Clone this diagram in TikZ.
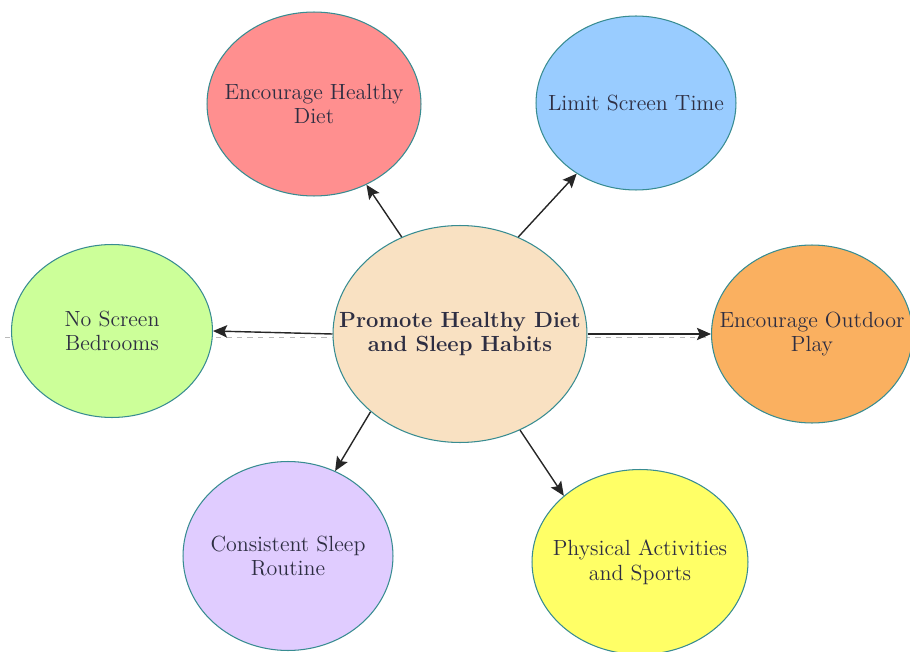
\documentclass[tikz,border=0pt]{standalone}
\usepackage{tikz}
\usetikzlibrary{shapes.geometric, arrows, arrows.meta}
\definecolor{rim}{rgb}{0.22,0.55,0.57}
\definecolor{inktext}{rgb}{0.18,0.18,0.26}
\definecolor{peach}{RGB}{249,225,194}
\definecolor{salmon}{RGB}{255,143,143}
\definecolor{skyblue}{RGB}{153,204,255}
\definecolor{lightlime}{RGB}{204,255,153}
\definecolor{apricot}{RGB}{250,176,96}
\definecolor{lilac}{RGB}{224,204,255}
\definecolor{lemon}{RGB}{255,255,102}

\tikzset{
  bubble/.style={ellipse, draw=rim, line width=0.6pt, inner sep=-1.5cm, align=center, text=inktext, font=\fontsize{12.5}{14}\selectfont},
  link/.style={->, >={Stealth[length=8pt, width=7pt, inset=1.5pt]}, line width=0.8pt, draw=black!85}
}

\begin{document}
\begin{tikzpicture}[x=0.02cm, y=-0.02cm]
	\useasboundingbox (0,0) rectangle (910,652);
	
	\coordinate (axisL) at (5,337);
	\coordinate (axisR) at (712,337);
	\draw[gray!55, dashed, line width=0.5pt] (axisL) -- (axisR);
	
	\node(hub) [bubble, fill=peach, minimum width=5.08cm, minimum height=4.34cm] at (460,334) {\textbf{Promote Healthy Diet}\\ \textbf{and Sleep Habits}};
	
	\node(diet) [bubble, fill=salmon, minimum width=4.28cm, minimum height=3.68cm] at (314,104) {Encourage Healthy\\ Diet};
	\node(screen) [bubble, fill=skyblue, minimum width=4.0cm, minimum height=3.48cm] at (636,103) {Limit Screen Time};
	\node(bedroom) [bubble, fill=lightlime, minimum width=4.02cm, minimum height=3.46cm] at (112,331) {No Screen\\ Bedrooms};
	\node(outdoor) [bubble, fill=apricot, minimum width=4.02cm, minimum height=3.56cm] at (812,334) {Encourage Outdoor\\ Play};
	\node(sleep) [bubble, fill=lilac, minimum width=4.2cm, minimum height=3.78cm] at (288,556) {Consistent Sleep\\ Routine};
	\node(sports) [bubble, fill=lemon, minimum width=4.32cm, minimum height=3.7cm] at (640,562) {Physical Activities\\ and Sports};
	
	\draw[link] (hub.121) -- (diet.-57);
	\draw[link] (hub.59) -- (screen.-130);
	\draw[link] (hub.180) -- (bedroom.0);
	\draw[link] (hub.0) -- (outdoor.180);
	\draw[link] (hub.-139) -- (sleep.61);
	\draw[link] (hub.-58) -- (sports.139);
\end{tikzpicture}
\end{document}
